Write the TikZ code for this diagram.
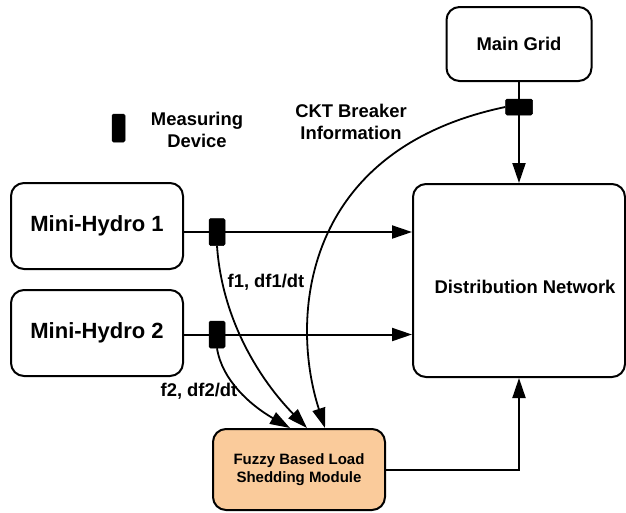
\documentclass[tikz,border=0pt]{standalone}
\usepackage{fontspec}
\setmainfont{Liberation Sans}
\usetikzlibrary{arrows.meta,calc}
\definecolor{fuzzyfill}{RGB}{250,203,155}
\begin{document}
\begin{tikzpicture}[x=1pt,y=-1pt,
  boxbase/.style={draw, line width=2pt, rounded corners=13pt, inner sep=0pt, align=center},
  bigfont/.style={font=\fontsize{22}{25}\selectfont\bfseries},
  lblfont/.style={font=\fontsize{18.4}{21.5}\selectfont\bfseries},
  blk/.style={draw, fill=black, rounded corners=1.5pt, inner sep=0pt, line width=0.5pt},
  arr/.style={line width=2pt, -{Triangle[length=20pt,width=13pt]}},
  curv/.style={line width=1.8pt, -{Triangle[length=20pt,width=13pt]}},
  lbl/.style={lblfont, align=center, inner sep=0pt}]
\useasboundingbox (0,0) rectangle (626,512);

% boxes
\node[boxbase, bigfont, minimum width=172pt, minimum height=86pt] (mh1) at (97,226) {Mini-Hydro 1};
\node[boxbase, bigfont, minimum width=172pt, minimum height=86pt] (mh2) at (97,333) {Mini-Hydro 2};
\node[boxbase, lblfont, minimum width=145pt, minimum height=74pt] (mg) at (519,44) {Main Grid};
\node[boxbase, minimum width=212pt, minimum height=193pt,
      label={[lblfont, xshift=6pt, yshift=-6pt]center:Distribution Network}] (dn) at (519,280.5) {};
\node[boxbase, fill=fuzzyfill, font=\fontsize{15}{18}\selectfont\bfseries,
      minimum width=172pt, minimum height=81pt] (fz) at (299,469.5) {Fuzzy Based Load\\Shedding Module};

% measuring devices
\node[blk, minimum width=16pt, minimum height=27pt] (md1) at (217,232) {};
\node[blk, minimum width=16pt, minimum height=27pt] (md2) at (217,334.5) {};
\node[blk, minimum width=27pt, minimum height=16pt] (mdg) at (519,107) {};
\node[blk, minimum width=13pt, minimum height=28pt] (legmd) at (118.5,128) {};

% labels
\node[lbl] (legtxt) at (197,130) {Measuring\\Device};
\node[lbl] (ckt) at (351,122) {CKT Breaker\\Information};
\node[lbl] (f1) at (266,282) {f1, df1/dt};
\node[lbl] (f2) at (199,391) {f2, df2/dt};

% connectors
\draw[arr] (mh1.east |- md1) -- (dn.west |- md1);
\draw[arr] (mh2.east |- md2) -- (dn.west |- md2);
\draw[arr] (mg.south) -- (dn.north);
\draw[arr] (fz.east) -| (dn.south);

\draw[curv] (md1.south) .. controls (222,320) and (260,380) .. ($(fz.north)+(8,0)$);
\draw[curv] (md2.south) .. controls (222,380) and (250,405) .. ($(fz.north)+(-9,0)$);
\draw[curv] (mdg.west) .. controls (300,150) and (290,320) .. ($(fz.north)+(26,0)$);
\end{tikzpicture}
\end{document}
